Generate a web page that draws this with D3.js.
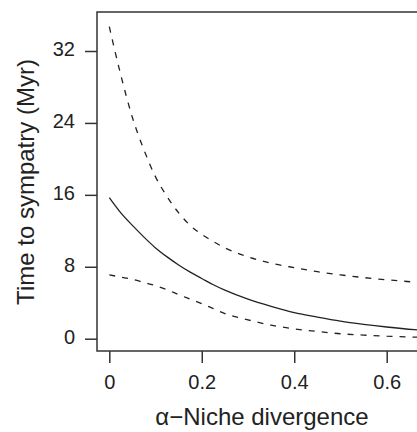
<!DOCTYPE html>
<html lang="en">
<head>
<meta charset="UTF-8">
<title>Time to sympatry</title>
<script src="https://d3js.org/d3.v7.min.js"></script>
<style>
    body { margin: 0; background: #fff; }
    svg { display: block; }
    .tick text { font-family: "Liberation Sans", Arial, sans-serif; font-size: 20px; fill: #222; }
    .title { font-family: "Liberation Sans", Arial, sans-serif; font-size: 24px; fill: #222; }
</style>
</head>
<body>
<svg id="chart" width="417" height="432"></svg>
<script>
// values
const divergence = [0, 0.025, 0.05, 0.075, 0.1, 0.125, 0.15, 0.175, 0.2, 0.225, 0.25, 0.3, 0.35, 0.4, 0.45, 0.5, 0.55, 0.6, 0.66, 0.7];
const meanTime   = [15.7, 14.0, 12.6, 11.3, 10.1, 9.1, 8.2, 7.4, 6.7, 6.0, 5.4, 4.4, 3.6, 2.9, 2.4, 1.95, 1.6, 1.3, 1.0, 0.85];
const upperTime  = [34.7, 29.3, 24.6, 21.0, 18.0, 15.8, 14.0, 12.6, 11.6, 10.8, 10.1, 9.1, 8.4, 7.9, 7.45, 7.1, 6.8, 6.55, 6.3, 6.15];
const lowerTime  = [7.1, 6.85, 6.6, 6.25, 5.9, 5.45, 4.9, 4.4, 3.9, 3.35, 2.8, 2.1, 1.5, 1.1, 0.8, 0.55, 0.4, 0.28, 0.18, 0.14];
const xTicks = [0, 0.2, 0.4, 0.6];
const yTicks = [0, 8, 16, 24, 32];

const svg = d3.select("#chart");
const box = {left: 97, top: 12, bottom: 351, right: 440};

const x = d3.scaleLinear().domain([0, 0.6]).range([109.3, 386.7]);
const y = d3.scaleLinear().domain([0, 32]).range([338.7, 51]);

// frame (right edge falls outside the window)
svg.append("rect")
    .attr("x", box.left).attr("y", box.top)
    .attr("width", box.right - box.left).attr("height", box.bottom - box.top)
    .attr("fill", "none").attr("stroke", "#333").attr("stroke-width", 1.5);

// axes, R style: detached from the box
const xAxis = svg.append("g")
    .attr("transform", `translate(0,${box.bottom})`)
    .call(d3.axisBottom(x).tickValues(xTicks).tickSize(12).tickPadding(12)
        .tickFormat(d => d === 0 ? "0" : d3.format(".1f")(d)));
xAxis.select(".domain").remove();

const yAxis = svg.append("g")
    .attr("transform", `translate(${box.left},0)`)
    .call(d3.axisLeft(y).tickValues(yTicks).tickSize(12).tickPadding(10));
yAxis.select(".domain").remove();
yAxis.selectAll(".tick text").attr("dy", "0.22em");

svg.selectAll(".tick line").attr("stroke", "#333").attr("stroke-width", 1.5);

// curves
const line = vals => d3.line()
    .x((d, i) => x(divergence[i]))
    .y(d => y(d))
    .curve(d3.curveMonotoneX)(vals);

svg.append("path").attr("d", line(upperTime))
    .attr("fill", "none").attr("stroke", "#222").attr("stroke-width", 1.3)
    .attr("stroke-dasharray", "6,7");
svg.append("path").attr("d", line(lowerTime))
    .attr("fill", "none").attr("stroke", "#222").attr("stroke-width", 1.3)
    .attr("stroke-dasharray", "6,7");
svg.append("path").attr("d", line(meanTime))
    .attr("fill", "none").attr("stroke", "#222").attr("stroke-width", 1.3);

// axis titles
svg.append("text").attr("class", "title")
    .attr("x", 262).attr("y", 425)
    .attr("text-anchor", "middle")
    .text("\u03b1\u2212Niche divergence");

svg.append("text").attr("class", "title")
    .attr("transform", "translate(34,182) rotate(-90)")
    .attr("text-anchor", "middle")
    .text("Time to sympatry (Myr)");
</script>
</body>
</html>
